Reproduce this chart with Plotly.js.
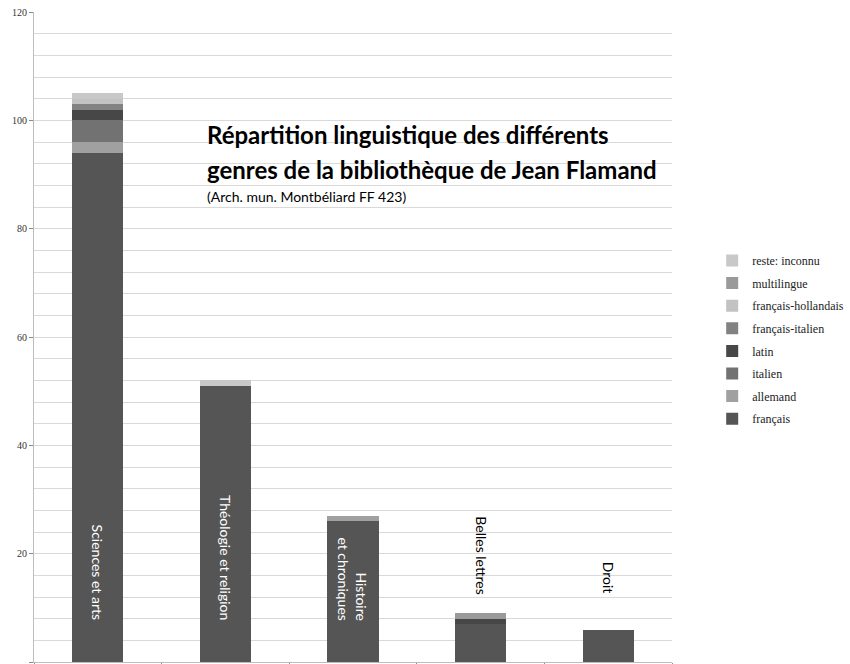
<!DOCTYPE html>
<html>
<head>
<meta charset="utf-8">
<script src="https://cdn.plot.ly/plotly-3.0.1.min.js"></script>
<style>html,body{margin:0;padding:0;background:#fff;}#chart{width:850px;height:664px;}</style>
</head>
<body>
<div id="chart"></div>
<script>
const categories = ["Sciences et arts", "Théologie et religion", "Histoire et chroniques", "Belles lettres", "Droit"];
const categoryLabels = ["Sciences et arts", "Théologie et religion", "Histoire<br>et chroniques", "Belles lettres", "Droit"];
const francais = [94, 51, 26, 7, 6];
const allemand = [2, 0, 1, 0, 0];
const italien = [4, 0, 0, 0, 0];
const latin = [2, 0, 0, 1, 0];
const francaisItalien = [1, 0, 0, 0, 0];
const francaisHollandais = [1, 0, 0, 0, 0];
const multilingue = [0, 0, 0, 1, 0];
const resteInconnu = [1, 1, 0, 0, 0];
const seriesNames = ["français", "allemand", "italien", "latin", "français-italien", "français-hollandais", "multilingue", "reste: inconnu"];
const seriesValues = [francais, allemand, italien, latin, francaisItalien, francaisHollandais, multilingue, resteInconnu];
const seriesColors = ["#555555", "#a0a0a0", "#727272", "#474747", "#828282", "#c2c2c2", "#9a9a9a", "#c8c8c8"];
const yTicks = [0, 20, 40, 60, 80, 100, 120];
const titleLines = ["Répartition linguistique des différents", "genres de la bibliothèque de Jean Flamand"];
const subtitle = "(Arch. mun. Montbéliard FF 423)";

const serif = "Liberation Serif, Times New Roman, serif";
const sans = "Lato, Open Sans, sans-serif";

const traces = seriesNames.map((n, i) => ({
  type: "bar", name: n, x: categories, y: seriesValues[i],
  marker: {color: seriesColors[i], line: {width: 0}},
  legendgroup: n, legendrank: seriesNames.length - i, hoverinfo: "name+y"
}));

const annotations = categoryLabels.map((t, i) => {
  const inside = i < 3;
  return {
    x: categories[i], y: inside ? 7.4 : 12.2, xref: "x", yref: "y",
    text: t, showarrow: false, textangle: 90, align: "right",
    xanchor: "center", yanchor: "bottom",
    font: {family: sans, size: 14, color: inside ? "#ffffff" : "#000000"}
  };
});
titleLines.forEach((t, k) => {
  annotations.push({
    xref: "paper", yref: "paper", x: 0.268, y: 0.837 - k * 0.054, xanchor: "left", yanchor: "top",
    showarrow: false, align: "left",
    text: "<b>" + t + "</b>",
    font: {family: sans, size: 24, color: "#000"}
  });
});
annotations.push({
  xref: "paper", yref: "paper", x: 0.268, y: 0.733, xanchor: "left", yanchor: "top",
  showarrow: false, align: "left",
  text: subtitle,
  font: {family: sans, size: 14, color: "#000"}
});

const layout = {
  width: 850, height: 664,
  margin: {l: 34, r: 178, t: 12, b: 2, autoexpand: false},
  barmode: "stack", bargap: 0.6,
  paper_bgcolor: "#fff", plot_bgcolor: "#fff",
  showlegend: true,
  legend: {
    x: 1.063, xanchor: "left", y: 0.64, yanchor: "top",
    traceorder: "grouped", tracegroupgap: 3.6,
    font: {family: serif, size: 12, color: "#222"},
    itemwidth: 30
  },
  xaxis: {
    type: "category", showticklabels: false, showgrid: false,
    showline: true, linecolor: "#bdbdbd", linewidth: 1,
    ticks: "outside", tickson: "boundaries", ticklen: 4, tickcolor: "#888",
    fixedrange: true
  },
  yaxis: {
    range: [0, 120], tickvals: yTicks, ticktext: yTicks.map(String),
    showgrid: true, gridcolor: "#d9d9d9", gridwidth: 1,
    minor: {dtick: 4, tick0: 0, showgrid: true, gridcolor: "#d9d9d9", gridwidth: 1},
    showline: true, linecolor: "#bdbdbd", linewidth: 1,
    ticks: "outside", ticklen: 4, tickcolor: "#888",
    tickfont: {family: serif, size: 10, color: "#333"},
    zeroline: false, fixedrange: true
  },
  annotations: annotations
};

Plotly.newPlot("chart", traces, layout, {displayModeBar: false, staticPlot: true});
</script>
</body>
</html>
